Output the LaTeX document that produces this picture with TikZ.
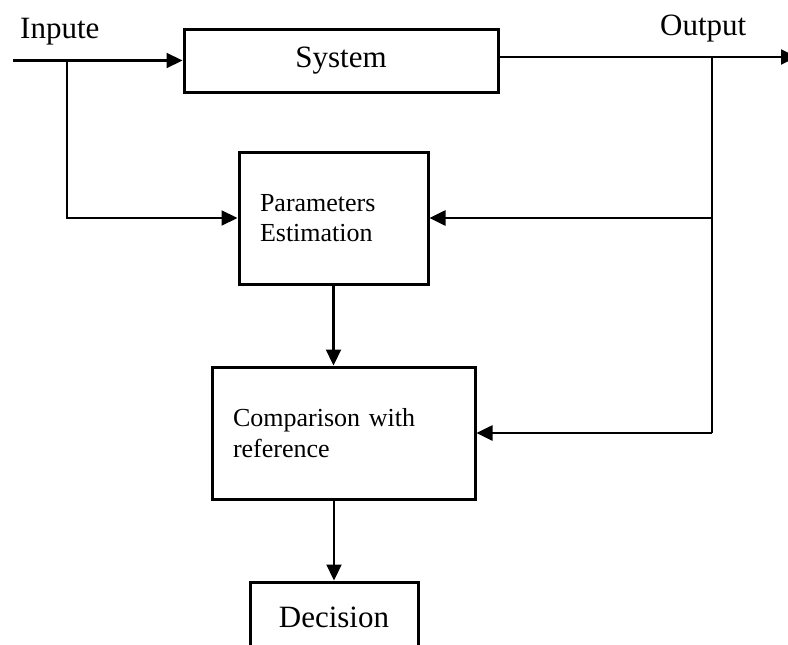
\documentclass[tikz,border=0pt]{standalone}
\usepackage{fontspec}
\setmainfont{Liberation Serif}
\usetikzlibrary{arrows.meta,positioning}
\tikzstyle{block}=[rectangle, draw, line width=3pt, inner sep=0pt]
\tikzstyle{bigtxt}=[font=\fontsize{31}{37}\selectfont]
\tikzstyle{smalltxt}=[font=\fontsize{26}{30.5}\selectfont, align=left]
\tikzstyle{link}=[line width=2.2pt, -{Triangle[length=16pt,width=15pt]}]
\tikzstyle{feed}=[line width=2.6pt, -{Triangle[length=16pt,width=15pt]}]

\begin{document}
\begin{tikzpicture}[x=1pt,y=-1pt]
\useasboundingbox (0,0) rectangle (788,645);
\clip (0,0) rectangle (788,645);
%Blocks
\node[block,bigtxt,minimum width=314pt,minimum height=63pt] (sys) at (341,60.5){System};
\node[block,smalltxt,minimum width=189pt,minimum height=132pt,text width=147pt] (param) at (333.5,218){Parameters\\Estimation};
\node[block,smalltxt,minimum width=263pt,minimum height=132pt,text width=221pt] (comp) at (343.5,433){Comparison with\\reference};
\node[block,bigtxt,minimum width=168pt,minimum height=70pt] (dec) at (334,617){Decision};
%Labels
\node[bigtxt,anchor=base west,inner sep=0pt] (inlab) at (20,38){Inpute};
\node[bigtxt,anchor=base west,inner sep=0pt] (outlab) at (660,35){Output};
%Points
\coordinate (inp) at (13,60.5);
\coordinate (split) at (67,60.5);
\coordinate (outp) at (797,57);
\coordinate (tap) at (712,57);
%Connectors
\draw[link] (inp) -- (sys.west);
\draw[link] (sys.east |- outp) -- (outp);
\draw[link] (split) |- (param.west);
\draw[link] (param.south) -- (param.south |- comp.north);
\draw[link] (dec.north |- comp.south) -- (dec.north);
\draw[line width=1.8pt] (tap) -- (tap |- comp.east);
\draw[feed] (tap |- param.east) -- (param.east);
\draw[feed] (tap |- comp.east) -- (comp.east);
\end{tikzpicture}
\end{document}
